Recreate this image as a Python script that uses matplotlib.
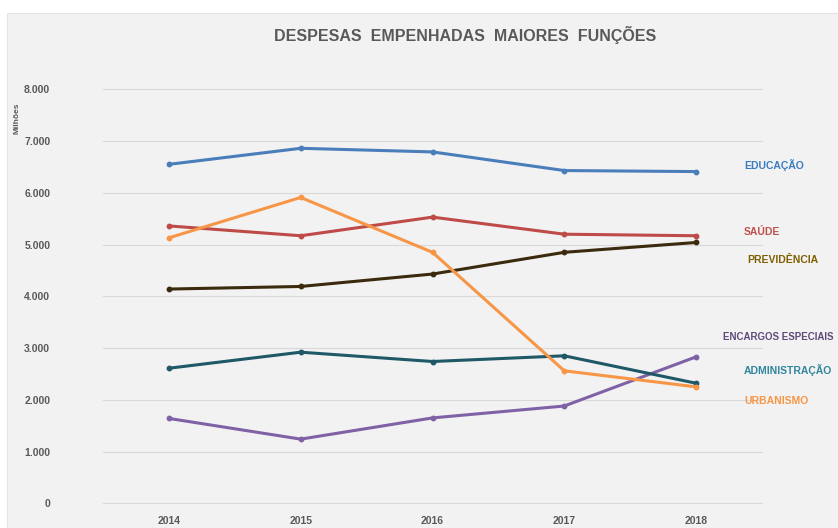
import matplotlib
matplotlib.use("Agg")
import matplotlib.pyplot as plt
from matplotlib.patches import Rectangle
import matplotlib.transforms as mtransforms

years = ["2014", "2015", "2016", "2017", "2018"]
educacao = [6550, 6860, 6790, 6430, 6410]
saude = [5360, 5170, 5530, 5200, 5170]
previdencia = [4140, 4190, 4430, 4850, 5040]
urbanismo = [5130, 5910, 4850, 2560, 2250]
administracao = [2610, 2920, 2740, 2850, 2320]
encargos = [1640, 1240, 1650, 1880, 2830]

series_names = ["EDUCAÇÃO", "SAÚDE", "PREVIDÊNCIA", "ENCARGOS ESPECIAIS", "ADMINISTRAÇÃO", "URBANISMO"]
series_values = [educacao, saude, previdencia, encargos, administracao, urbanismo]
line_colors = ["#4A7EBB", "#BE4B48", "#3B2A0E", "#7F62A6", "#1F5867", "#F79646"]
label_colors = ["#3A7CC0", "#C0504D", "#7F6000", "#604A7B", "#31859C", "#F79646"]
label_y = [6537, 5248, 4701, 3214, 2576, 1983]
label_x = [0.9727, 0.9727, 0.977, 0.941, 0.9727, 0.9727]
label_size = [7.5, 7.5, 7.5, 7.0, 7.5, 7.5]
y_ticks = [0, 1000, 2000, 3000, 4000, 5000, 6000, 7000, 8000]

plt.rcParams['font.family'] = ['Liberation Sans Narrow', 'Liberation Sans', 'DejaVu Sans']

fig = plt.figure(figsize=(8.38, 5.28), dpi=100)
fig.patch.set_facecolor("white")
fig.add_artist(Rectangle((7/838, 0), 1, 1 - 13/528, transform=fig.transFigure,
                         facecolor="#F2F2F2", edgecolor="#E4E4E4", lw=0.8, zorder=-10))

ax = fig.add_axes([103/838, (528-503.3)/528, 659/838, (503.3-89.3)/528])
ax.set_facecolor("none")
x = list(range(len(years)))
for vals, c in zip(series_values, line_colors):
    ax.plot(x, vals, color=c, lw=2.2, marker="o", ms=3.2, solid_capstyle="round", zorder=3)

ax.set_xlim(-0.5, 4.5)
ax.set_ylim(0, 8000)
ax.set_yticks(y_ticks)
ax.set_yticklabels([f"{v:,}".replace(",", ".") for v in y_ticks])
ax.set_xticks(x)
ax.set_xticklabels(years)
ax.grid(axis="y", color="#D9D9D9", lw=0.8)
for gl in ax.get_ygridlines():
    gl.set_clip_on(False)
ax.set_axisbelow(True)
for s in ax.spines.values():
    s.set_visible(False)
ax.tick_params(length=0, labelsize=7.5, labelcolor="#595959")
ax.tick_params(axis="y", pad=38)
ax.tick_params(axis="x", pad=9)
for lab in ax.get_xticklabels() + ax.get_yticklabels():
    lab.set_fontweight("bold")

trans = mtransforms.blended_transform_factory(ax.transAxes, ax.transData)
for name, c, ly, lx, fs in zip(series_names, label_colors, label_y, label_x, label_size):
    ax.text(lx, ly, name, transform=trans, color=c, fontsize=fs, fontweight="bold",
            va="center", ha="left", clip_on=False)

fig.text(17/838, 1 - 118/528, "Milhões", rotation=90, fontsize=6, fontweight="bold",
         color="#595959", ha="center", va="center")
fig.text(465/838, 1 - 35/528, "DESPESAS  EMPENHADAS  MAIORES  FUNÇÕES", fontsize=11.5,
         fontweight="bold", color="#595959", ha="center", va="center")

fig.savefig("out.png", dpi=100, facecolor=fig.get_facecolor())
